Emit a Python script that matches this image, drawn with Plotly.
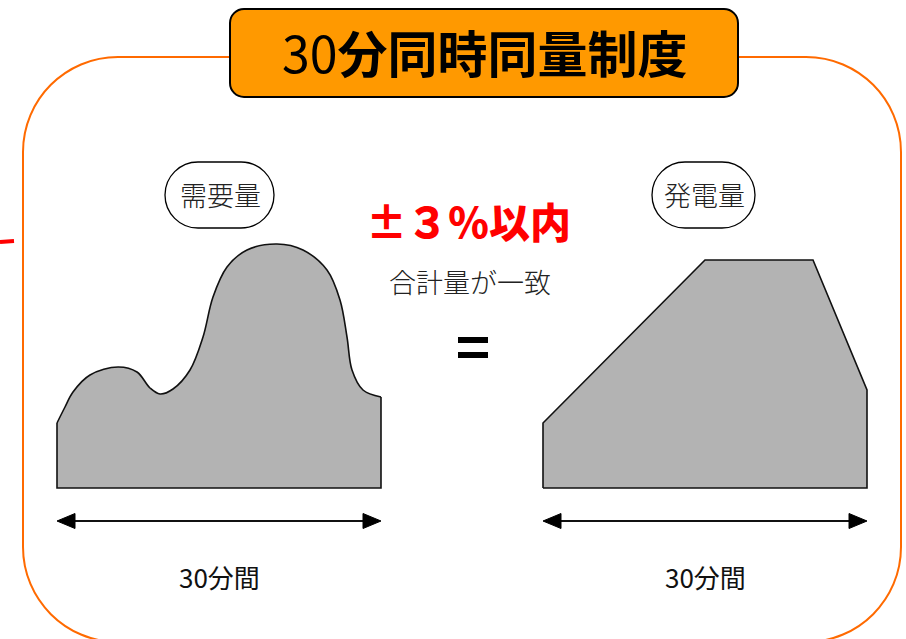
import plotly.graph_objects as go

W, H = 906, 639

# ---- text content ----
title_text = "30<b>分同時同量制度</b>"
demand_label = "需要量"
supply_label = "発電量"
tolerance_text = "±３％以内"
match_text = "合計量が一致"
span_text = "30分間"

# ---- demand profile: top edge, left to right ----
demand_x = [57, 65, 73, 90, 118, 137, 150, 160, 173, 190, 203, 213, 227, 247, 277, 303, 327, 340, 347, 352, 363, 381]
demand_y = [423, 407, 392, 375, 367, 372, 388, 394, 389, 370, 337, 297, 267, 250, 244, 250, 270, 300, 337, 370, 390, 397]

# ---- supply profile: top edge, left to right ----
supply_x = [543, 705, 813, 867]
supply_y = [423, 260, 260, 390]

base_y = 488          # common baseline of both profiles
span_y = 521          # level of the 30-minute span arrows

GREY = "#B3B3B3"
INK = "#111111"
ORANGE_LINE = "#FF6A00"
ORANGE_FILL = "#FF9900"

JP_SANS = "Noto Sans CJK JP, Noto Sans, sans-serif"


def rounded_rect(x0, y0, x1, y1, r):
    k = 0.5523 * r
    return (
        f"M {x0 + r},{y0} L {x1 - r},{y0} "
        f"C {x1 - r + k},{y0} {x1},{y0 + r - k} {x1},{y0 + r} "
        f"L {x1},{y1 - r} "
        f"C {x1},{y1 - r + k} {x1 - r + k},{y1} {x1 - r},{y1} "
        f"L {x0 + r},{y1} "
        f"C {x0 + r - k},{y1} {x0},{y1 - r + k} {x0},{y1 - r} "
        f"L {x0},{y0 + r} "
        f"C {x0},{y0 + r - k} {x0 + r - k},{y0} {x0 + r},{y0} Z"
    )


fig = go.Figure()

# demand area: baseline first, then the curved top filled down to it
fig.add_trace(go.Scatter(x=[demand_x[0], demand_x[-1]], y=[base_y, base_y],
                         mode="lines", line=dict(width=0, color=GREY),
                         hoverinfo="skip", showlegend=False))
fig.add_trace(go.Scatter(x=demand_x, y=demand_y, mode="lines", fill="tonexty",
                         fillcolor=GREY,
                         line=dict(color=INK, width=1.6, shape="spline", smoothing=1.0),
                         hoverinfo="skip", showlegend=False))
fig.add_trace(go.Scatter(x=[demand_x[0], demand_x[0], demand_x[-1], demand_x[-1]],
                         y=[demand_y[0], base_y, base_y, demand_y[-1]],
                         mode="lines", line=dict(color=INK, width=1.6),
                         hoverinfo="skip", showlegend=False))

# supply area: straight-edged polygon
sx = [supply_x[0]] + supply_x + [supply_x[-1], supply_x[0]]
sy = [base_y] + supply_y + [base_y, base_y]
fig.add_trace(go.Scatter(x=sx, y=sy, mode="lines", fill="toself", fillcolor=GREY,
                         line=dict(color=INK, width=1.6),
                         hoverinfo="skip", showlegend=False))

# double-headed span arrows under each profile
head_len, head_half = 18, 7.5
for x0, x1 in [(demand_x[0], demand_x[-1]), (supply_x[0], supply_x[-1])]:
    fig.add_trace(go.Scatter(x=[x0 + head_len - 2, x1 - head_len + 2], y=[span_y, span_y],
                             mode="lines", line=dict(color=INK, width=2),
                             hoverinfo="skip", showlegend=False))
    for tip, back in [(x0, x0 + head_len), (x1, x1 - head_len)]:
        fig.add_trace(go.Scatter(x=[tip, back, back, tip],
                                 y=[span_y, span_y - head_half, span_y + head_half, span_y],
                                 mode="lines", fill="toself", fillcolor="#000000",
                                 line=dict(color="#000000", width=1),
                                 hoverinfo="skip", showlegend=False))

shapes = [
    # outer orange frame
    dict(type="path", path=rounded_rect(23, 57, 901, 642, 95),
         line=dict(color=ORANGE_LINE, width=2), fillcolor="rgba(0,0,0,0)", layer="below"),
    # title plate
    dict(type="path", path=rounded_rect(230, 9, 738, 97, 14),
         line=dict(color="#000000", width=2), fillcolor=ORANGE_FILL, layer="above"),
    # label pills
    dict(type="path", path=rounded_rect(165, 162, 274, 228, 33),
         line=dict(color="#000000", width=1.3), fillcolor="white", layer="above"),
    dict(type="path", path=rounded_rect(652, 162, 755, 228, 33),
         line=dict(color="#000000", width=1.3), fillcolor="white", layer="above"),
    # equals sign
    dict(type="rect", x0=458, x1=488, y0=337, y1=343, line=dict(width=0), fillcolor="#000000"),
    dict(type="rect", x0=458, x1=488, y0=352, y1=358, line=dict(width=0), fillcolor="#000000"),
    # red tick on the left edge
    dict(type="line", x0=0, x1=14, y0=242, y1=241, line=dict(color="#FF0000", width=4)),
]

annotations = [
    dict(x=485, y=51, text=title_text, showarrow=False,
         font=dict(family=JP_SANS, size=50, color="#000000")),
    dict(x=220, y=194, text=demand_label, showarrow=False,
         font=dict(family=JP_SANS, size=27, color="#222222", weight=300)),
    dict(x=704, y=194, text=supply_label, showarrow=False,
         font=dict(family=JP_SANS, size=27, color="#222222", weight=300)),
    dict(x=468, y=220, text=tolerance_text, showarrow=False,
         font=dict(family=JP_SANS, size=41, color="#FF0000", weight=900)),
    dict(x=470, y=281, text=match_text, showarrow=False,
         font=dict(family=JP_SANS, size=27, color="#222222", weight=300)),
    dict(x=219, y=576, text=span_text, showarrow=False,
         font=dict(family=JP_SANS, size=26, color="#111111")),
    dict(x=705, y=576, text=span_text, showarrow=False,
         font=dict(family=JP_SANS, size=26, color="#111111")),
]

fig.update_layout(
    width=W, height=H,
    margin=dict(l=0, r=0, t=0, b=0),
    paper_bgcolor="white", plot_bgcolor="white",
    xaxis=dict(range=[0, W], visible=False, fixedrange=True),
    yaxis=dict(range=[H, 0], visible=False, fixedrange=True),
    shapes=shapes, annotations=annotations,
    showlegend=False,
)

fig.write_html("out.html", config=dict(displayModeBar=False))
